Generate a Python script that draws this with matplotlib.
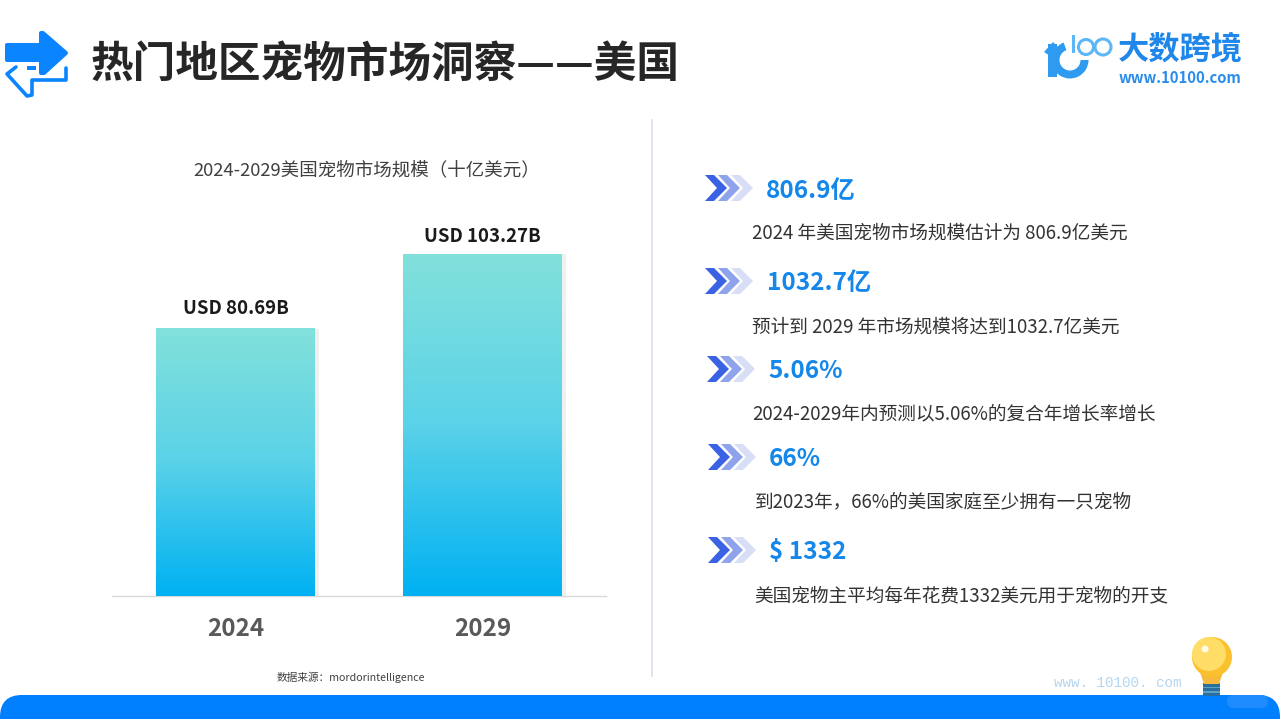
import numpy as np
import matplotlib
matplotlib.use("Agg")
import matplotlib.pyplot as plt
from matplotlib.patches import Polygon, Circle, FancyBboxPatch, Rectangle, Wedge, Ellipse
from matplotlib.colors import LinearSegmentedColormap

plt.rcParams['font.family'] = ['Noto Sans CJK SC', 'DejaVu Sans']

years = ['2024', '2029']
market_size = [80.69, 103.27]
bar_labels = ['USD 80.69B', 'USD 103.27B']
chart_title = '2024-2029美国宠物市场规模（十亿美元）'
source_text = '数据来源：mordorintelligence'
page_title = '热门地区宠物市场洞察——美国'
headlines = ['806.9亿', '1032.7亿', '5.06%', '66%', '$ 1332']
details = ['2024 年美国宠物市场规模估计为 806.9亿美元',
           '预计到 2029 年市场规模将达到1032.7亿美元',
           '2024-2029年内预测以5.06%的复合年增长率增长',
           '到2023年，66%的美国家庭至少拥有一只宠物',
           '美国宠物主平均每年花费1332美元用于宠物的开支']

W, H = 1280, 719
fig = plt.figure(figsize=(12.8, 7.19), dpi=100, facecolor='white')

# page overlay in pixel coordinates
pg = fig.add_axes([0, 0, 1, 1], zorder=1)
pg.set_xlim(0, W); pg.set_ylim(H, 0); pg.axis('off')

BLUE = '#0A84FF'

# header icon
pg.add_patch(Polygon([(7, 45), (41, 45), (41, 33), (43, 33), (66, 53), (44, 73), (41, 73), (41, 60), (7, 60)],
                     closed=True, fc=BLUE, ec=BLUE, lw=2.9, joinstyle='round'))
pg.plot([66, 66, 32, 32, 27, 7, 16], [68, 80, 80, 95, 96, 74, 67], color=BLUE, lw=2.6,
        solid_joinstyle='round', solid_capstyle='round')
pg.add_patch(Rectangle((27, 66), 9, 3.5, fc=BLUE, ec='none'))

pg.text(91, 63.5, page_title, fontsize=30.7, fontweight='bold', color='#262626', ha='left', va='center')

# logo
LOGO = '#2E9BF0'
pg.add_patch(Rectangle((1048, 44), 9, 33, fc=LOGO, ec='none'))
pg.add_patch(Polygon([(1044, 52), (1053, 42), (1057, 46), (1050, 56)], closed=True, fc=LOGO, ec='none'))
pg.add_patch(Wedge((1070, 60), 18.5, 0, 250, width=8, fc=LOGO, ec='none'))
pg.add_patch(Rectangle((1072, 35), 3, 18, fc='#5DB6F5', ec='none'))
for cx, r in [(1086, 7.5), (1103, 8)]:
    pg.add_patch(Ellipse((cx, 47), r * 2, r * 2, fc='none', ec='#5DB6F5', lw=2.2))
pg.text(1180, 49, '大数跨境', fontsize=22.5, fontweight='bold', color='#1F86EA', ha='center', va='center')
pg.text(1180.5, 78, 'www.10100.com', fontsize=10.7, fontweight='bold', color='#2B8DEB', ha='center', va='center')

# divider
pg.plot([651.5, 651.5], [120, 676], color='#D8E0EA', lw=1.2)

# chart texts
pg.text(367, 171.5, chart_title, fontsize=13.3, color='#404040', ha='center', va='center')
pg.text(350.5, 677.5, source_text, fontsize=7.7, color='#404040', ha='center', va='center')

# right column
head_x = [766, 767, 768, 769, 769]
head_y = [189, 282, 370, 458, 551]
detail_x = [752, 752, 752.5, 754.5, 754.5]
detail_y = [232, 326, 413, 501, 595]
chev_x = [705, 705, 707, 708, 708]
chev_cols = ['#3B62E3', '#8FA3EC', '#D8DEF6']
for hx, hy, txt in zip(head_x, head_y, headlines):
    pg.text(hx, hy + 1.5, txt, fontsize=17.5, fontweight='bold', color='#1487EA', ha='left', va='center')
for dx, dy, txt in zip(detail_x, detail_y, details):
    pg.text(dx, dy + 1, txt, fontsize=13.45, color='#333333', ha='left', va='center')
for cx, hy in zip(chev_x, head_y):
    for i in [2, 1, 0]:
        x0 = cx + i * 13
        pg.add_patch(Polygon([(x0, hy - 14), (x0 + 9, hy - 14), (x0 + 22, hy - 1), (x0 + 9, hy + 12),
                              (x0, hy + 12), (x0 + 12, hy - 1)], closed=True, fc=chev_cols[i], ec='none'))

# footer band
pg.add_patch(FancyBboxPatch((0, 695), W, 80, boxstyle='round,pad=0,rounding_size=22',
                            fc='#0080FF', ec='none', zorder=2))
pg.plot([20, W - 20], [694.7, 694.7], color='#BDEBFF', lw=0.7, zorder=1)
pg.add_patch(FancyBboxPatch((1227, 695), 41, 13, boxstyle='round,pad=0,rounding_size=6.5',
                            fc='#1E8CFF', ec='none', zorder=3))
pg.text(1054, 683, 'www. 10100. com', family='Liberation Mono', fontsize=10.3, color='#B5D6EE',
        ha='left', va='center')

# bulb
pg.add_patch(Rectangle((1203, 683), 17, 13, fc='#2A6E9E', ec='none', zorder=4))
for by in [686.5, 691]:
    pg.add_patch(Rectangle((1203, by), 17, 1.6, fc='#5AA0C8', ec='none', zorder=4))
pg.add_patch(Polygon([(1200, 672), (1223, 672), (1219, 684), (1204, 684)], closed=True, fc='#F6B93B', ec='none', zorder=5))
pg.add_patch(Circle((1212, 657), 20, fc='#FBC02D', ec='none', zorder=5))
pg.add_patch(Circle((1209, 654), 17, fc='#FFDD66', ec='none', zorder=6))
pg.add_patch(Circle((1205, 649), 3.5, fc='#FFFBE6', ec='none', zorder=7))

# bar chart: 1 data unit = 3.309 px, category spacing = 247 px
base_y = 596
ax_h = 420
ax = fig.add_axes([112 / W, (H - base_y) / H, 494 / W, ax_h / H], zorder=2)
ax.patch.set_alpha(0)
for s in ['top', 'left', 'right']:
    ax.spines[s].set_visible(False)
ax.spines['bottom'].set_color('#D9D9D9')
ax.spines['bottom'].set_linewidth(1)
ax.set_yticks([])
x = np.arange(len(years))
ax.set_xticks(x, years, fontsize=17.5, fontweight='bold', color='#595959')
ax.tick_params(axis='x', length=0, pad=15)

cmap = LinearSegmentedColormap.from_list('barfill', ['#82E1DB', '#5AD2E8', '#00B1F2'])
grad = np.linspace(0, 1, 256).reshape(-1, 1)
bw = 159 / 247
ax.bar(x + 4 / 247, market_size, width=bw, color='#F0F0F0', zorder=1)
bars = ax.bar(x, market_size, width=bw, color='none', zorder=2)
for b, lab, off in zip(bars, bar_labels, [20, 18]):
    l, h = b.get_x(), b.get_height()
    ax.imshow(grad, cmap=cmap, extent=[l, l + b.get_width(), 0, h], aspect='auto', zorder=3)
    ax.annotate(lab, (l + b.get_width() / 2, h), xytext=(0, off), textcoords='offset pixels',
                ha='center', va='center', fontsize=13.4, fontweight='bold', color='#1A1A1A', zorder=4)
ax.set_xlim(-0.5, 1.5)
ax.set_ylim(0, ax_h / 3.309)

fig.savefig('out.png', dpi=100)
